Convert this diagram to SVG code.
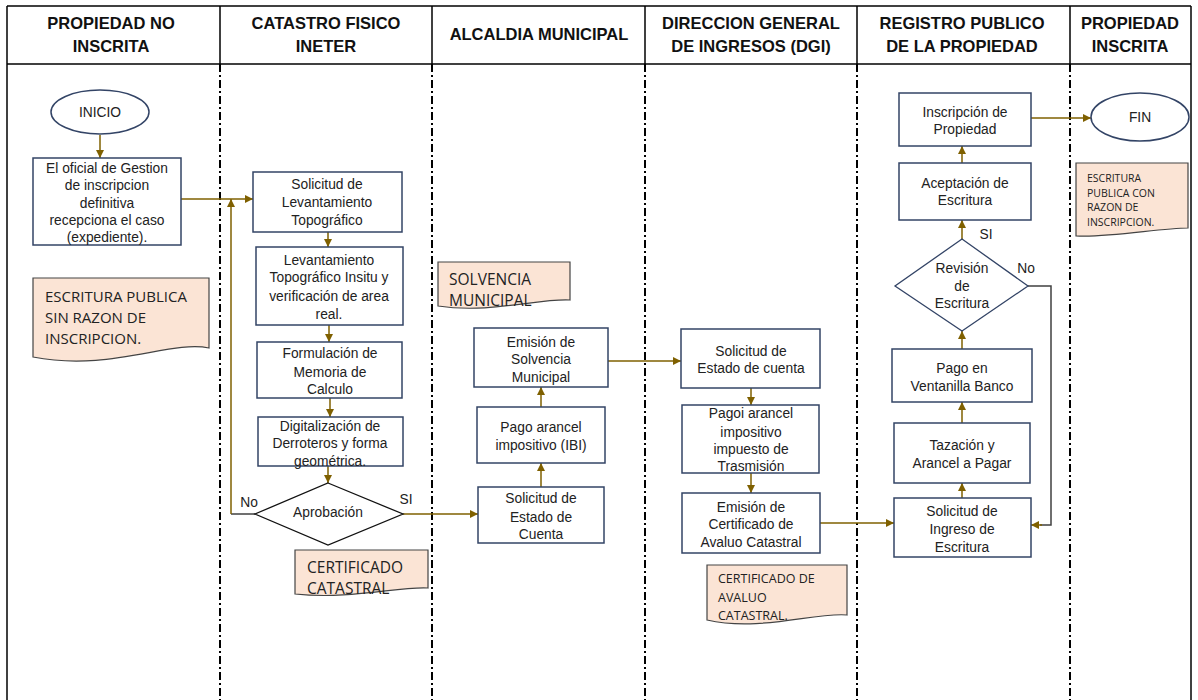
<svg xmlns="http://www.w3.org/2000/svg" width="1198" height="700" viewBox="0 0 1198 700">
<style>
.hdr{font-family:"Liberation Sans",Arial,sans-serif;font-weight:bold;font-size:16.5px;fill:#111;text-anchor:middle;dominant-baseline:central}
.t{font-family:"Liberation Sans",Arial,sans-serif;font-size:13.8px;fill:#222;text-anchor:middle;dominant-baseline:central}
.d{font-family:"Open Sans","Liberation Sans",sans-serif;fill:#222;dominant-baseline:central}
.box{fill:#fff;stroke:#334466;stroke-width:1.5}
.doc{fill:#FBE4D5;stroke:#444;stroke-width:1.2}
.dia{fill:#fff;stroke-width:1.3}
.c{fill:none;stroke:#7F6000;stroke-width:1.5}
.cd{fill:none;stroke:#404040;stroke-width:1.5}
.lane{stroke:#000;stroke-width:2;stroke-dasharray:8 3 2 3}
</style>
<defs>
<marker id="ar" viewBox="0 0 10 10" refX="10" refY="5" markerWidth="8" markerHeight="8" markerUnits="userSpaceOnUse" orient="auto">
<path d="M0,0 L10,5 L0,10 Z" fill="#7F6000"/>
</marker>
</defs>
<rect width="1198" height="700" fill="#fff"/>
<g id="lanes">
<line x1="7" y1="6" x2="1191" y2="6" stroke="#000" stroke-width="1.5"/>
<line x1="7" y1="64" x2="1191" y2="64" stroke="#000" stroke-width="1.5"/>
<line x1="7" y1="6" x2="7" y2="700" stroke="#000" stroke-width="1.5"/>
<line x1="1191" y1="6" x2="1191" y2="700" stroke="#000" stroke-width="1.5"/>
<g stroke="#000" stroke-width="1.5">
<line x1="220" y1="6" x2="220" y2="64"/><line x1="432" y1="6" x2="432" y2="64"/><line x1="645" y1="6" x2="645" y2="64"/><line x1="857" y1="6" x2="857" y2="64"/><line x1="1070" y1="6" x2="1070" y2="64"/>
</g>
<line class="lane" x1="220" y1="64" x2="220" y2="700"/>
<line class="lane" x1="432" y1="64" x2="432" y2="700"/>
<line class="lane" x1="645" y1="64" x2="645" y2="700"/>
<line class="lane" x1="857" y1="64" x2="857" y2="700"/>
<line class="lane" x1="1070" y1="64" x2="1070" y2="700"/>
<text class="hdr" x="111" y="23">PROPIEDAD NO</text><text class="hdr" x="111" y="46">INSCRITA</text>
<text class="hdr" x="326" y="23">CATASTRO FISICO</text><text class="hdr" x="326" y="46">INETER</text>
<text class="hdr" x="539" y="34">ALCALDIA MUNICIPAL</text>
<text class="hdr" x="751" y="23">DIRECCION GENERAL</text><text class="hdr" x="751" y="46">DE INGRESOS (DGI)</text>
<text class="hdr" x="962" y="23">REGISTRO PUBLICO</text><text class="hdr" x="962" y="46">DE LA PROPIEDAD</text>
<text class="hdr" x="1130" y="23">PROPIEDAD</text><text class="hdr" x="1130" y="46">INSCRITA</text>
</g>
<g id="connectors">
<line class="c" x1="100" y1="135" x2="100" y2="158" marker-end="url(#ar)"/>
<line class="c" x1="181" y1="199" x2="253" y2="199" marker-end="url(#ar)"/>
<line class="cd" x1="255" y1="514" x2="231" y2="514"/>
<line class="c" x1="231" y1="514" x2="231" y2="199" marker-end="url(#ar)"/>
<line class="c" x1="328" y1="232" x2="328" y2="247" marker-end="url(#ar)"/>
<line class="c" x1="329" y1="325" x2="329" y2="342" marker-end="url(#ar)"/>
<line class="c" x1="330" y1="398" x2="330" y2="417" marker-end="url(#ar)"/>
<line class="c" x1="328" y1="466" x2="328" y2="483" marker-end="url(#ar)"/>
<line class="c" x1="403" y1="514" x2="478" y2="514" marker-end="url(#ar)"/>
<line class="c" x1="541" y1="487" x2="541" y2="463" marker-end="url(#ar)"/>
<line class="c" x1="541" y1="407" x2="541" y2="387" marker-end="url(#ar)"/>
<line class="c" x1="608" y1="361" x2="681" y2="361" marker-end="url(#ar)"/>
<line class="c" x1="751" y1="388" x2="751" y2="405" marker-end="url(#ar)"/>
<line class="c" x1="751" y1="473" x2="751" y2="493" marker-end="url(#ar)"/>
<line class="c" x1="820" y1="523" x2="894" y2="523" marker-end="url(#ar)"/>
<line class="c" x1="962" y1="498" x2="962" y2="483" marker-end="url(#ar)"/>
<line class="c" x1="962" y1="423" x2="962" y2="402" marker-end="url(#ar)"/>
<line class="c" x1="962" y1="349" x2="962" y2="331" marker-end="url(#ar)"/>
<polyline class="cd" points="1028,286 1051,286 1051,525 1040,525"/>
<line class="c" x1="1042" y1="525" x2="1031" y2="525" marker-end="url(#ar)"/>
<line class="c" x1="962" y1="239" x2="962" y2="220" marker-end="url(#ar)"/>
<line class="c" x1="962" y1="163" x2="962" y2="146" marker-end="url(#ar)"/>
<line class="c" x1="1031" y1="118" x2="1091" y2="118" marker-end="url(#ar)"/>
</g>
<g id="inicio"><ellipse cx="100" cy="112" rx="49" ry="22" fill="#fff" stroke="#334466" stroke-width="1.5"/><text class="t" x="100" y="112">INICIO</text></g>
<g id="oficial"><rect class="box" x="33" y="158" width="148" height="87"/>
<text class="t" x="107" y="168">El oficial de Gestion</text><text class="t" x="107" y="185">de inscripcion</text><text class="t" x="107" y="203">definitiva</text><text class="t" x="107" y="220">recepciona el caso</text><text class="t" x="107" y="237">(expediente).</text></g>
<g id="doc-sin-razon"><path class="doc" d="M33,278 H209 V348 C170,340 110,372 33,357 Z"/>
<text class="d" x="45" y="296" font-size="15">ESCRITURA PUBLICA</text><text class="d" x="45" y="317" font-size="15">SIN RAZON DE</text><text class="d" x="45" y="338" font-size="15">INSCRIPCION.</text></g>
<g id="sol-lev"><rect class="box" x="253" y="172" width="149" height="60"/>
<text class="t" x="327" y="184">Solicitud de</text><text class="t" x="327" y="202">Levantamiento</text><text class="t" x="327" y="220">Topográfico</text></g>
<g id="lev-insitu"><rect class="box" x="256" y="247" width="147" height="78"/>
<text class="t" x="329" y="260">Levantamiento</text><text class="t" x="329" y="277">Topográfico Insitu y</text><text class="t" x="329" y="296">verificación de area</text><text class="t" x="329" y="314">real.</text></g>
<g id="memoria"><rect class="box" x="257" y="342" width="145" height="56"/>
<text class="t" x="330" y="353">Formulación de</text><text class="t" x="330" y="372">Memoria de</text><text class="t" x="330" y="389">Calculo</text></g>
<g id="digital"><rect class="box" x="258" y="417" width="145" height="49"/>
<text class="t" x="330" y="426">Digitalización de</text><text class="t" x="330" y="443">Derroteros y forma</text><text class="t" x="330" y="461">geométrica.</text></g>
<g id="aprobacion"><polygon class="dia" stroke="#111" points="328,483 403,514 328,545 255,514"/>
<text class="t" x="328" y="512">Aprobación</text></g>
<text class="t" x="249" y="502">No</text>
<text class="t" x="406" y="499">SI</text>
<g id="doc-cert-catastral"><path class="doc" d="M295,550 H428 V588 C400,586 350,600 295,594 Z"/>
<text class="d" x="307" y="567" font-size="15.5">CERTIFICADO</text><text class="d" x="307" y="588" font-size="15.5">CATASTRAL</text></g>
<g id="doc-solvencia"><path class="doc" d="M438,262 H570 V300 C540,298 490,314 438,306 Z"/>
<text class="d" x="449" y="279" font-size="15.5">SOLVENCIA</text><text class="d" x="449" y="300" font-size="15.5">MUNICIPAL</text></g>
<g id="emision-solv"><rect class="box" x="474" y="328" width="134" height="59"/>
<text class="t" x="541" y="342">Emisión de</text><text class="t" x="541" y="359">Solvencia</text><text class="t" x="541" y="377">Municipal</text></g>
<g id="pago-ibi"><rect class="box" x="477" y="407" width="128" height="56"/>
<text class="t" x="541" y="427">Pago arancel</text><text class="t" x="541" y="445">impositivo (IBI)</text></g>
<g id="sol-estado-alc"><rect class="box" x="478" y="487" width="126" height="56"/>
<text class="t" x="541" y="498">Solicitud de</text><text class="t" x="541" y="517">Estado de</text><text class="t" x="541" y="534">Cuenta</text></g>
<g id="sol-estado-dgi"><rect class="box" x="681" y="329" width="139" height="59"/>
<text class="t" x="751" y="351">Solicitud de</text><text class="t" x="751" y="368">Estado de cuenta</text></g>
<g id="pago-trasmision"><rect class="box" x="682" y="405" width="137" height="68"/>
<text class="t" x="751" y="413">Pagoi arancel</text><text class="t" x="751" y="432">impositivo</text><text class="t" x="751" y="449">impuesto de</text><text class="t" x="751" y="466">Trasmisión</text></g>
<g id="emision-cert"><rect class="box" x="682" y="493" width="138" height="60"/>
<text class="t" x="751" y="507">Emisión de</text><text class="t" x="751" y="524">Certificado de</text><text class="t" x="751" y="542">Avaluo Catastral</text></g>
<g id="doc-avaluo"><path class="doc" d="M707,565 H847 V615 C815,612 760,632 707,620 Z"/>
<text class="d" x="718" y="578" font-size="12.5">CERTIFICADO DE</text><text class="d" x="718" y="597" font-size="12.5">AVALUO</text><text class="d" x="718" y="615" font-size="12.5">CATASTRAL.</text></g>
<g id="inscripcion"><rect class="box" x="899" y="93" width="132" height="53"/>
<text class="t" x="965" y="112">Inscripción de</text><text class="t" x="965" y="129">Propiedad</text></g>
<g id="aceptacion"><rect class="box" x="899" y="163" width="132" height="57"/>
<text class="t" x="965" y="183">Aceptación de</text><text class="t" x="965" y="200">Escritura</text></g>
<g id="revision"><polygon class="dia" stroke="#334466" points="962,239 1028,286 962,331 895,286"/>
<text class="t" x="962" y="268">Revisión</text><text class="t" x="962" y="286">de</text><text class="t" x="962" y="303">Escritura</text></g>
<text class="t" x="986" y="234">SI</text>
<text class="t" x="1026" y="268">No</text>
<g id="pago-banco"><rect class="box" x="892" y="349" width="140" height="53"/>
<text class="t" x="962" y="368">Pago en</text><text class="t" x="962" y="386">Ventanilla Banco</text></g>
<g id="tazacion"><rect class="box" x="894" y="423" width="136" height="60"/>
<text class="t" x="962" y="445">Tazación y</text><text class="t" x="962" y="463">Arancel a Pagar</text></g>
<g id="sol-ingreso"><rect class="box" x="894" y="498" width="137" height="59"/>
<text class="t" x="962" y="511">Solicitud de</text><text class="t" x="962" y="529">Ingreso de</text><text class="t" x="962" y="547">Escritura</text></g>
<g id="fin"><ellipse cx="1140" cy="117" rx="49" ry="24" fill="#fff" stroke="#334466" stroke-width="1.5"/><text class="t" x="1140" y="117">FIN</text></g>
<g id="doc-con-razon"><path class="doc" d="M1076,163 H1188 V228 C1160,228 1110,238 1076,236 Z"/>
<text class="d" x="1087" y="178" font-size="10.5">ESCRITURA</text><text class="d" x="1087" y="193" font-size="10.5">PUBLICA CON</text><text class="d" x="1087" y="207" font-size="10.5">RAZON DE</text><text class="d" x="1087" y="222" font-size="10.5">INSCRIPCION.</text></g>
</svg>
